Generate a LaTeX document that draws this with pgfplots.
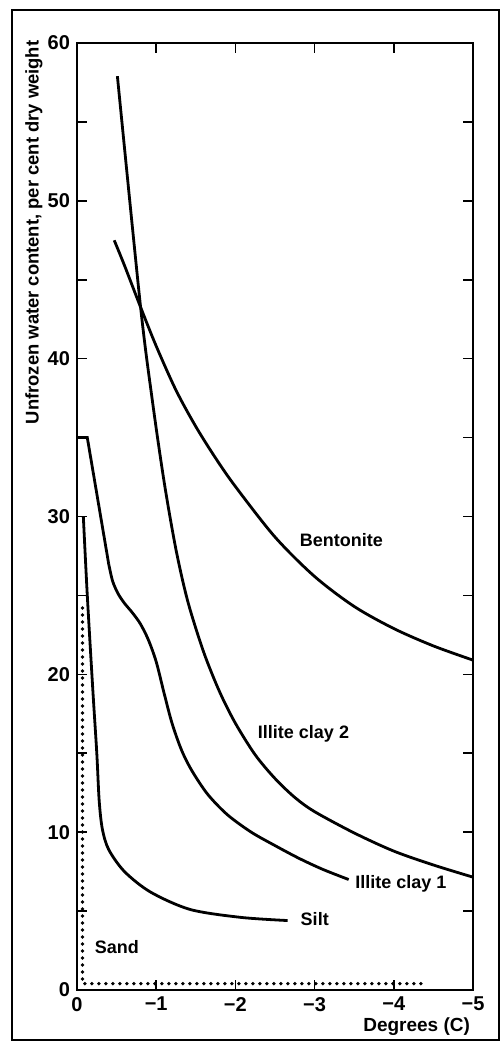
\documentclass[border=0pt]{standalone}
\usepackage{fontspec}
\setmainfont{Liberation Sans}
\usepackage{pgfplots}
\pgfplotsset{compat=1.18}
\tikzset{lbl/.style={anchor=west, inner sep=0pt, font=\fontsize{9}{10}\selectfont\bfseries}}
\begin{document}
\begin{tikzpicture}[x=1pt,y=1pt]
\useasboundingbox (-38.5,-26) rectangle (211.5,495);
\draw[line width=0.9pt] (-32.5,-25) rectangle (211,490);
\begin{axis}[
  at={(0,0)}, anchor=south west,
  scale only axis, width=198pt, height=473.5pt,
  xmin=-5, xmax=0, x dir=reverse, ymin=0, ymax=60,
  xtick={0,-1,-2,-3,-4,-5}, xticklabels={0,−1,−2,−3,−4,−5},
  ytick={0,10,...,60}, minor ytick={5,15,...,55},
  tick align=inside, major tick length=5pt, minor tick length=5pt,
  axis line style={line width=1pt},
  tick style={line width=0.8pt, black},
  ticklabel style={font=\fontsize{10}{11}\selectfont\bfseries},
  /pgf/number format/assume math mode=true,
  clip=false,
  every axis plot/.append style={black, line width=1.4pt, no marks},
]
% Bentonite
\addplot[black, smooth] coordinates {(-0.47,47.5) (-0.60,45.9) (-0.80,43.3) (-1.00,40.8) (-1.25,38.0) (-1.50,35.7) (-1.75,33.7) (-2.00,31.9) (-2.50,28.7) (-3.00,26.2) (-3.50,24.3) (-4.00,22.9) (-4.50,21.8) (-5.00,20.9)};
% Illite clay 2
\addplot[black, smooth] coordinates {(-0.51,57.9) (-0.80,43.4) (-0.95,37.4) (-1.10,32.2) (-1.25,27.9) (-1.40,24.6) (-1.60,21.4) (-1.80,18.9) (-2.00,16.9) (-2.25,14.9) (-2.50,13.4) (-2.75,12.2) (-3.00,11.3) (-3.50,9.95) (-4.00,8.8) (-4.50,7.92) (-5.00,7.15)};
% Illite clay 1
\addplot[black] coordinates {(0,35) (-0.13,35) (-0.40,27.0)};
\addplot[black, smooth] coordinates {(-0.40,27.0) (-0.45,25.9) (-0.52,25.1) (-0.60,24.5) (-0.70,23.9) (-0.80,23.2) (-0.90,22.2) (-1.00,20.8) (-1.10,18.8) (-1.20,16.9) (-1.32,15.2) (-1.45,13.9) (-1.65,12.4) (-1.90,11.1) (-2.20,10.0) (-2.50,9.15) (-2.80,8.35) (-3.10,7.65) (-3.43,7.0)};
% Silt
\addplot[black, smooth] coordinates {(-0.08,30) (-0.13,25) (-0.20,19) (-0.25,15) (-0.28,12) (-0.32,10.2) (-0.40,8.9) (-0.60,7.5) (-0.93,6.2) (-1.43,5.1) (-2.07,4.6) (-2.66,4.4)};
% Sand
\addplot[black, line width=1.9pt, line cap=round, dash pattern=on 0pt off 3.5pt] coordinates {(-0.07,24.2) (-0.07,0.4) (-4.4,0.4)};
\node[lbl] at (axis cs:-2.81,28.5) {Bentonite};
\node[lbl] at (axis cs:-2.28,16.2) {Illite clay 2};
\node[lbl] at (axis cs:-3.51,6.7) {Illite clay 1};
\node[lbl] at (axis cs:-2.82,4.5) {Silt};
\node[lbl] at (axis cs:-0.22,2.7) {Sand};
\node[anchor=east, font=\fontsize{9.5}{10}\selectfont\bfseries] at ([yshift=-18.5pt,xshift=2pt]rel axis cs:1,0) {Degrees (C)};
\node[rotate=90, font=\fontsize{9.2}{10}\selectfont\bfseries] at ([xshift=-21.5pt]rel axis cs:0,0.80) {Unfrozen water content, per cent dry weight};
\end{axis}
\end{tikzpicture}
\end{document}
